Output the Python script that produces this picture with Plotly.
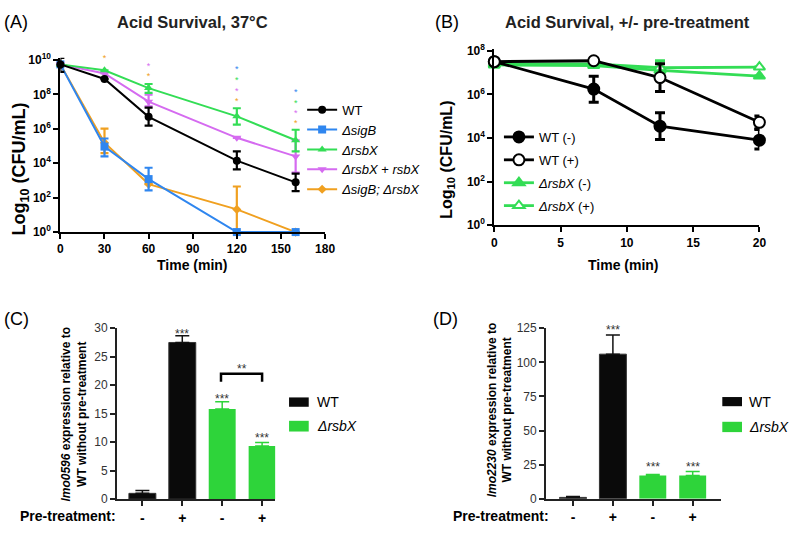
import plotly.graph_objects as go

W, H = 812, 546
FONT = "Liberation Sans, Arial, sans-serif"


def px(x):
    return x / W


def py(y):
    return 1 - y / H


# ---------------- Panel A data (log10 CFU/mL) ----------------
time_a = [0, 30, 60, 120, 160]
wt_a = [9.75, 8.90, 6.70, 4.15, 2.89]
wt_a_up = [0.37, 0.0, 0.54, 0.54, 0.51]
wt_a_dn = [0.44, 0.0, 0.51, 0.51, 0.51]
sigb_a = [9.75, 4.97, 3.08, 0.0, 0.0]
sigb_a_up = [0.0, 0.47, 0.66, 0.0, 0.0]
sigb_a_dn = [0.0, 0.57, 0.66, 0.0, 0.0]
rsbx_a = [9.75, 9.41, 8.37, 6.73, 5.34]
rsbx_a_up = [0.0, 0.0, 0.24, 0.47, 0.61]
rsbx_a_dn = [0.0, 0.0, 0.28, 0.48, 0.65]
comp_a = [9.75, 9.22, 7.58, 5.48, 4.40]
comp_a_up = [0.0, 0.0, 0.41, 0.0, 0.94]
comp_a_dn = [0.0, 0.0, 0.27, 0.0, 0.94]
dbl_a = [9.75, 5.20, 2.79, 1.32, 0.0]
dbl_a_up = [0.0, 0.81, 0.0, 1.33, 0.0]
dbl_a_dn = [0.0, 0.61, 0.0, 1.32, 0.0]

# significance stars (panel A)
star_blue_t = [30, 60, 120, 160]
star_blue_y = [10.67, 10.86, 9.44, 8.09]
star_green_t = [60, 120, 160]
star_green_y = [10.25, 8.80, 7.48]
star_violet_t = [60, 120, 160]
star_violet_y = [9.63, 8.17, 6.88]
star_orange_t = [30, 60, 120, 160]
star_orange_y = [10.07, 9.03, 7.58, 6.29]

log_tick_vals_a = [0, 2, 4, 6, 8, 10]
log_tick_text_a = ["10<sup>0</sup>", "10<sup>2</sup>", "10<sup>4</sup>",
                   "10<sup>6</sup>", "10<sup>8</sup>", "10<sup>10</sup>"]

# ---------------- Panel B data ----------------
time_b = [0, 7.5, 12.5, 20]
wtm_b = [7.50, 6.24, 4.54, 3.90]
wtm_b_up = [0.0, 0.59, 0.62, 0.52]
wtm_b_dn = [0.0, 0.60, 0.61, 0.40]
wtp_b = [7.50, 7.54, 6.77, 4.72]
wtp_b_up = [0.0, 0.0, 0.63, 0.29]
wtp_b_dn = [0.0, 0.0, 0.64, 0.33]
rxm_b = [7.35, 7.32, 7.10, 6.84]
rxm_b_up = [0.1, 0.0, 0.44, 0.0]
rxm_b_dn = [0.1, 0.0, 0.45, 0.0]
rxp_b = [7.40, 7.40, 7.22, 7.25]
rxp_b_up = [0.0, 0.0, 0.0, 0.0]
rxp_b_dn = [0.0, 0.0, 0.0, 0.0]

log_tick_vals_b = [0, 2, 4, 6, 8]
log_tick_text_b = ["10<sup>0</sup>", "10<sup>2</sup>", "10<sup>4</sup>",
                   "10<sup>6</sup>", "10<sup>8</sup>"]

# ---------------- Panels C / D data ----------------
bar_pos = [0, 1, 2, 3]
pretreat_labels = ["-", "+", "-", "+"]
c_wt = [1.0, 27.5]
c_wt_err = [0.5, 1.2]
c_rx = [15.8, 9.3]
c_rx_err = [1.3, 0.65]
c_star_pos = [1, 2, 3]
c_star_y = [29.3, 17.9, 11.0]

d_wt = [1.0, 106.0]
d_wt_err = [0.6, 14.0]
d_rx = [17.1, 17.1]
d_rx_err = [0.6, 2.8]
d_star_pos = [1, 2, 3]
d_star_y = [125.0, 24.6, 24.6]

BLACK = "#000000"
BLUE = "#2f86ef"
GREEN = "#33dd55"
VIOLET = "#d56bf0"
ORANGE = "#f0a020"
BARGREEN = "#2ed43a"

fig = go.Figure()

# ---- Panel A traces ----
series_a = [
    ("<i>ΔsigB; ΔrsbX</i>", dbl_a, dbl_a_up, dbl_a_dn, ORANGE, "diamond", 7, 5),
    ("<i>ΔsigB</i>", sigb_a, sigb_a_up, sigb_a_dn, BLUE, "square", 8, 2),
    ("<i>ΔrsbX</i> + <i>rsbX</i>", comp_a, comp_a_up, comp_a_dn, VIOLET, "triangle-down", 8, 4),
    ("<i>ΔrsbX</i>", rsbx_a, rsbx_a_up, rsbx_a_dn, GREEN, "triangle-up", 8, 3),
    ("WT", wt_a, wt_a_up, wt_a_dn, BLACK, "circle", 8, 1),
]
for name, ys, up, dn, col, sym, size, rank in series_a:
    fig.add_trace(go.Scatter(
        x=time_a, y=ys, name=name, mode="lines+markers",
        line=dict(color=col, width=2),
        marker=dict(symbol=sym, size=size, color=col),
        error_y=dict(type="data", array=up, arrayminus=dn, symmetric=False,
                     color=col, thickness=2.2, width=4),
        cliponaxis=False, xaxis="x", yaxis="y", legend="legend",
        legendrank=rank,
    ))

for t, yv, col in [(star_blue_t, star_blue_y, BLUE), (star_green_t, star_green_y, GREEN),
                   (star_violet_t, star_violet_y, VIOLET), (star_orange_t, star_orange_y, ORANGE)]:
    fig.add_trace(go.Scatter(
        x=t, y=yv, mode="text", text=["*"] * len(t), textposition="middle center",
        textfont=dict(family=FONT, size=9, color=col), showlegend=False,
        cliponaxis=False, xaxis="x", yaxis="y", hoverinfo="skip",
    ))

# ---- Panel B traces ----
series_b = [
    ("<i>ΔrsbX</i> (-)", rxm_b, rxm_b_up, rxm_b_dn, GREEN, "triangle-up", GREEN, 3, 10),
    ("<i>ΔrsbX</i> (+)", rxp_b, rxp_b_up, rxp_b_dn, GREEN, "triangle-up", "white", 4, 10),
    ("WT (-)", wtm_b, wtm_b_up, wtm_b_dn, BLACK, "circle", BLACK, 1, 11),
    ("WT (+)", wtp_b, wtp_b_up, wtp_b_dn, BLACK, "circle", "white", 2, 11),
]
for name, ys, up, dn, col, sym, fill, rank, size in series_b:
    fig.add_trace(go.Scatter(
        x=time_b, y=ys, name=name, mode="lines+markers",
        line=dict(color=col, width=2.8),
        marker=dict(symbol=sym, size=size, color=fill, line=dict(color=col, width=2)),
        error_y=dict(type="data", array=up, arrayminus=dn, symmetric=False,
                     color=col, thickness=3, width=5),
        cliponaxis=False, xaxis="x2", yaxis="y2", legend="legend2",
        legendrank=rank, legendgroup=name,
    ))

# ---- Panel C bars ----
fig.add_trace(go.Bar(
    x=bar_pos[:2], y=c_wt, width=0.675, marker=dict(color="#0a0a0a", line=dict(color="#333", width=1)),
    error_y=dict(type="data", array=c_wt_err, arrayminus=[0, 0], symmetric=False,
                 color="#111", thickness=1.5, width=7),
    showlegend=False, xaxis="x3", yaxis="y3"))
fig.add_trace(go.Bar(
    x=bar_pos[2:], y=c_rx, width=0.675, marker=dict(color=BARGREEN, line=dict(width=0)),
    error_y=dict(type="data", array=c_rx_err, arrayminus=[0, 0], symmetric=False,
                 color=BARGREEN, thickness=1.5, width=7),
    showlegend=False, xaxis="x3", yaxis="y3"))

# ---- Panel D bars ----
fig.add_trace(go.Bar(
    x=bar_pos[:2], y=d_wt, width=0.675, marker=dict(color="#0a0a0a", line=dict(color="#333", width=1)),
    error_y=dict(type="data", array=d_wt_err, arrayminus=[0, 0], symmetric=False,
                 color="#111", thickness=1.5, width=7),
    showlegend=False, xaxis="x4", yaxis="y4"))
fig.add_trace(go.Bar(
    x=bar_pos[2:], y=d_rx, width=0.675, marker=dict(color=BARGREEN, line=dict(width=0)),
    error_y=dict(type="data", array=d_rx_err, arrayminus=[0, 0], symmetric=False,
                 color=BARGREEN, thickness=1.5, width=7),
    showlegend=False, xaxis="x4", yaxis="y4"))

bold12 = dict(family=FONT, size=12, color="black", weight="bold")
line_ax = dict(showline=True, linecolor="black", linewidth=2, ticks="outside",
               ticklen=5, tickwidth=2, tickcolor="black", showgrid=False,
               zeroline=False, tickfont=bold12)
bar_ax = dict(showline=True, linecolor="#222", linewidth=1.5, ticks="outside",
              ticklen=5, tickwidth=1.5, tickcolor="#222", showgrid=False,
              zeroline=False)

annotations = []
shapes = []


def note(text, x, y, font, xanchor="center", yanchor="middle", **kw):
    annotations.append(dict(text=text, x=px(x), y=py(y), xref="paper", yref="paper",
                            xanchor=xanchor, yanchor=yanchor, showarrow=False,
                            font=font, **kw))


# panel labels & titles
for txt, x, y in [("(A)", 13.5, 15), ("(B)", 451.5, 15), ("(C)", 13.5, 320), ("(D)", 450, 320)]:
    note(txt, x, y, dict(family=FONT, size=18, color="black"))
for txt, x in [("Acid Survival, 37°C", 192.5), ("Acid Survival, +/- pre-treatment", 634.5)]:
    note(txt, x, 15, dict(family=FONT, size=16.5, color="#222", weight="bold"))

# axis titles A/B
note("Log<sub>10</sub> (CFU/mL)", 18, 166, dict(family=FONT, size=18, color="black", weight="bold"),
     textangle=-90)
note("Log<sub>10</sub> (CFU/mL)", 452, 157, dict(family=FONT, size=16, color="black", weight="bold"),
     textangle=-90)
for x in [192.5, 631]:
    note("Time (min)", x, 265, dict(family=FONT, size=14, color="black", weight="bold"))

# axis titles C/D
note("<i>lmo0596</i> expression relative to<br>WT without pre-treatment", 72.5, 418,
     dict(family=FONT, size=12, color="black", weight="bold"), textangle=-90)
note("<i>lmo2230</i> expression relative to<br>WT without pre-treatment", 505, 413,
     dict(family=FONT, size=12, color="black", weight="bold"), textangle=-90)
for x0 in [15, 455]:
    note("Pre-treatment:", x0, 522.5, dict(family=FONT, size=14, color="black", weight="bold"),
         xanchor="left")

# significance stars C/D
for pos, yv in zip(c_star_pos, c_star_y):
    annotations.append(dict(text="***", x=pos, y=yv, xref="x3", yref="y3", showarrow=False,
                            xanchor="center", yanchor="middle", yshift=-2,
                            font=dict(family=FONT, size=12, color="#333")))
for pos, yv in zip(d_star_pos, d_star_y):
    annotations.append(dict(text="***", x=pos, y=yv, xref="x4", yref="y4", showarrow=False,
                            xanchor="center", yanchor="middle", yshift=-2,
                            font=dict(family=FONT, size=12, color="#333")))
annotations.append(dict(text="**", x=2.5, y=23.2, xref="x3", yref="y3", showarrow=False,
                        xanchor="center", yanchor="middle", yshift=-2,
                        font=dict(family=FONT, size=12, color="#333")))
shapes.append(dict(type="path", xref="x3", yref="y3",
                   path="M 1.97 20.6 L 1.97 22.0 L 3.0 22.0 L 3.0 20.6",
                   line=dict(color="black", width=2.5)))

# manual bar legends C/D
for (lx, tx, ys) in [(290.7, 316.7, [(400.7, 410.3, "#0a0a0a", "WT"), (424.7, 435.7, BARGREEN, "<i>ΔrsbX</i>")]),
                     (731, 756, [(400.3, 409.7, "#0a0a0a", "WT"), (425.7, 436.3, BARGREEN, "<i>ΔrsbX</i>")])]:
    for y0, y1, col, txt in ys:
        shapes.append(dict(type="rect", xref="paper", yref="paper", x0=px(lx), x1=px(lx + 20),
                           y0=py(y1), y1=py(y0), fillcolor=col, line=dict(width=0)))
        note(txt, tx, (y0 + y1) / 2, dict(family=FONT, size=14, color="black"), xanchor="left")

fig.update_layout(
    autosize=True,
    margin=dict(l=0, r=0, t=0, b=0),
    paper_bgcolor="white", plot_bgcolor="white",
    barmode="overlay", showlegend=True,
    font=dict(family=FONT, color="black"),
    xaxis=dict(domain=[px(58.3), px(327.3)], anchor="y", range=[0, 180],
               tickvals=[0, 30, 60, 90, 120, 150, 180], **line_ax),
    yaxis=dict(domain=[py(231), py(52)], anchor="x", range=[0, 10.14],
               tickvals=log_tick_vals_a, ticktext=log_tick_text_a, **line_ax),
    xaxis2=dict(domain=[px(499.3), px(768.7)], anchor="y2", range=[0, 20],
                tickvals=[0, 5, 10, 15, 20], **line_ax),
    yaxis2=dict(domain=[py(224), py(43.3)], anchor="x2", range=[0, 8.07],
                tickvals=log_tick_vals_b, ticktext=log_tick_text_b, **line_ax),
    xaxis3=dict(domain=[px(115.7), px(276.7)], anchor="y3", range=[-0.64, 3.33],
                tickvals=bar_pos, ticktext=pretreat_labels,
                tickfont=dict(family=FONT, size=14, color="black", weight="bold"), **bar_ax),
    yaxis3=dict(domain=[py(505), py(329.7)], anchor="x3", range=[0, 30],
                tickvals=[0, 5, 10, 15, 20, 25, 30],
                tickfont=dict(family=FONT, size=12, color="#333"), **bar_ax),
    xaxis4=dict(domain=[px(551.7), px(729.3)], anchor="y4", range=[-0.68, 3.70],
                tickvals=bar_pos, ticktext=pretreat_labels,
                tickfont=dict(family=FONT, size=14, color="black", weight="bold"), **bar_ax),
    yaxis4=dict(domain=[py(504.7), py(329.7)], anchor="x4", range=[0, 125],
                tickvals=[0, 25, 50, 75, 100, 125],
                tickfont=dict(family=FONT, size=12, color="#333"), **bar_ax),
    legend=dict(x=px(304), y=py(90), xanchor="left", yanchor="top",
                bgcolor="rgba(0,0,0,0)", font=dict(family=FONT, size=13, color="black")),
    legend2=dict(x=px(504), y=py(118), xanchor="left", yanchor="top",
                 bgcolor="rgba(0,0,0,0)", tracegroupgap=3,
                 font=dict(family=FONT, size=13, color="black")),
    annotations=annotations,
    shapes=shapes,
)

post = (
    "document.documentElement.style.margin='0';"
    "document.body.style.margin='0';"
    "document.documentElement.style.overflow='hidden';"
    "document.body.style.overflow='hidden';"
)
fig.write_html("out.html", default_width="100vw", default_height="100vh",
               config={"displayModeBar": False}, post_script=post)
